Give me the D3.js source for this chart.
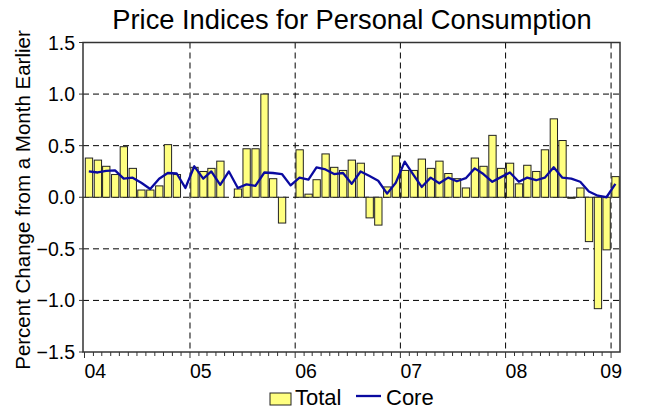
<!DOCTYPE html>
<html><head><meta charset="utf-8">
<script src="https://cdn.jsdelivr.net/npm/d3@7"></script>
<style>body{margin:0;background:#fff;} text{font-family:"Liberation Sans",Arial,sans-serif;}</style>
</head><body>
<svg id="c" width="645" height="410"></svg>
<script>
const months = d3.timeMonth.range(new Date(2004,0,1), new Date(2009,1,1));
const total = [
 0.38,0.36,0.30,0.22,0.49,0.28,0.07,0.07,0.11,0.51,0.22,0.00,
 0.29,0.25,0.28,0.35,0.00,0.08,0.47,0.47,1.00,0.18,-0.25,0.00,
 0.46,0.03,0.17,0.42,0.29,0.26,0.36,0.33,-0.20,-0.27,0.10,0.40,
 0.26,0.26,0.37,0.28,0.35,0.23,0.18,0.09,0.38,0.30,0.60,0.28,
 0.33,0.13,0.31,0.25,0.46,0.76,0.55,-0.01,0.09,-0.43,-1.08,-0.51,
 0.20];
const core = [
 0.25,0.24,0.255,0.26,0.18,0.19,0.14,0.08,0.18,0.235,0.23,0.09,
 0.30,0.18,0.25,0.12,0.25,0.09,0.125,0.11,0.24,0.235,0.225,0.115,
 0.19,0.17,0.29,0.27,0.225,0.235,0.13,0.25,0.205,0.16,0.035,0.14,
 0.345,0.215,0.10,0.19,0.135,0.19,0.155,0.185,0.28,0.225,0.15,0.195,
 0.24,0.15,0.19,0.165,0.19,0.29,0.19,0.18,0.15,0.055,0.015,0.0,
 0.13];
const yTicks = [-1.5,-1.0,-0.5,0.0,0.5,1.0,1.5];
const yearTicks = [2004,2005,2006,2007,2008,2009];
const yearLabels = ["04","05","06","07","08","09"];

const L=83, R=620, T=42.5, B=352;
const svg = d3.select("#c");
const x = d3.scaleTime().domain([new Date(2004,0,1), new Date(2009,1,1)]).range([L+1.5,R]);
const y = d3.scaleLinear().domain([-1.5,1.5]).range([B,T]);
const mid = d => new Date(d.getFullYear(), d.getMonth(), 16);

// grid
svg.append("g").selectAll("line").data(yTicks.slice(1,-1)).join("line")
  .attr("x1",L).attr("x2",R).attr("y1",d=>y(d)).attr("y2",d=>y(d))
  .attr("stroke","#000").attr("stroke-dasharray","6,4").attr("stroke-width",1);
svg.append("g").selectAll("line").data(yearTicks.slice(1)).join("line")
  .attr("x1",d=>x(new Date(d,0,1))).attr("x2",d=>x(new Date(d,0,1))).attr("y1",T).attr("y2",B)
  .attr("stroke","#000").attr("stroke-dasharray","6,4").attr("stroke-width",1);

// bars
const mw = x(new Date(2004,1,1)) - x(new Date(2004,0,1));
const bw = mw*0.82;
svg.append("g").selectAll("rect").data(months).join("rect")
  .attr("x",(d)=>x(d)+(mw-bw)/2)
  .attr("width",bw)
  .attr("y",(d,i)=>y(Math.max(0,total[i])))
  .attr("height",(d,i)=>Math.abs(y(total[i])-y(0)))
  .attr("fill","#ffff80").attr("stroke","#222").attr("stroke-width",1);

// core line
svg.append("path").datum(months)
  .attr("d", d3.line().x(d=>x(mid(d))).y((d,i)=>y(core[i])))
  .attr("fill","none").attr("stroke","#0a0aa0").attr("stroke-width",2.3).attr("stroke-linejoin","round");

// frame
svg.append("rect").attr("x",L).attr("y",T).attr("width",R-L).attr("height",B-T)
  .attr("fill","none").attr("stroke","#333").attr("stroke-width",1.5);

// y axis ticks & labels
const ya = svg.append("g");
ya.selectAll("line").data(yTicks).join("line")
  .attr("x1",L-4).attr("x2",L).attr("y1",d=>y(d)).attr("y2",d=>y(d)).attr("stroke","#333");
ya.selectAll("text").data(yTicks).join("text")
  .attr("x",L-8).attr("y",d=>y(d)+7).attr("text-anchor","end")
  .attr("font-size",19.5).text(d=>d3.format(".1f")(d));

// x minor ticks
svg.append("g").selectAll("line").data(d3.timeMonth.range(new Date(2004,0,1), new Date(2009,1,1))).join("line")
  .attr("x1",d=>x(d)).attr("x2",d=>x(d)).attr("y1",B).attr("y2",d=>d.getMonth()===0?B+6:B+4).attr("stroke","#333");
svg.append("g").selectAll("text").data(yearTicks).join("text")
  .attr("x",(d,i)=> i===yearTicks.length-1 ? R+2 : x(new Date(d,0,1)))
  .attr("text-anchor",(d,i)=> i===yearTicks.length-1 ? "end":"start")
  .attr("y",378).attr("font-size",19.5).text((d,i)=>yearLabels[i]);

// title
svg.append("text").attr("x",352).attr("y",29).attr("text-anchor","middle")
  .attr("font-size",27.3).text("Price Indices for Personal Consumption");
// y label
svg.append("text").attr("transform",`translate(30,200) rotate(-90)`)
  .attr("text-anchor","middle").attr("font-size",20.5).text("Percent Change from a Month Earlier");

// legend
const lg = svg.append("g");
lg.append("rect").attr("x",270).attr("y",393).attr("width",21).attr("height",12)
  .attr("fill","#ffff80").attr("stroke","#222");
lg.append("text").attr("x",295).attr("y",405).attr("font-size",22).text("Total");
lg.append("line").attr("x1",356).attr("x2",381).attr("y1",396).attr("y2",396)
  .attr("stroke","#0a0aa0").attr("stroke-width",2.3);
lg.append("text").attr("x",386).attr("y",405).attr("font-size",22).text("Core");
</script>
</body></html>
